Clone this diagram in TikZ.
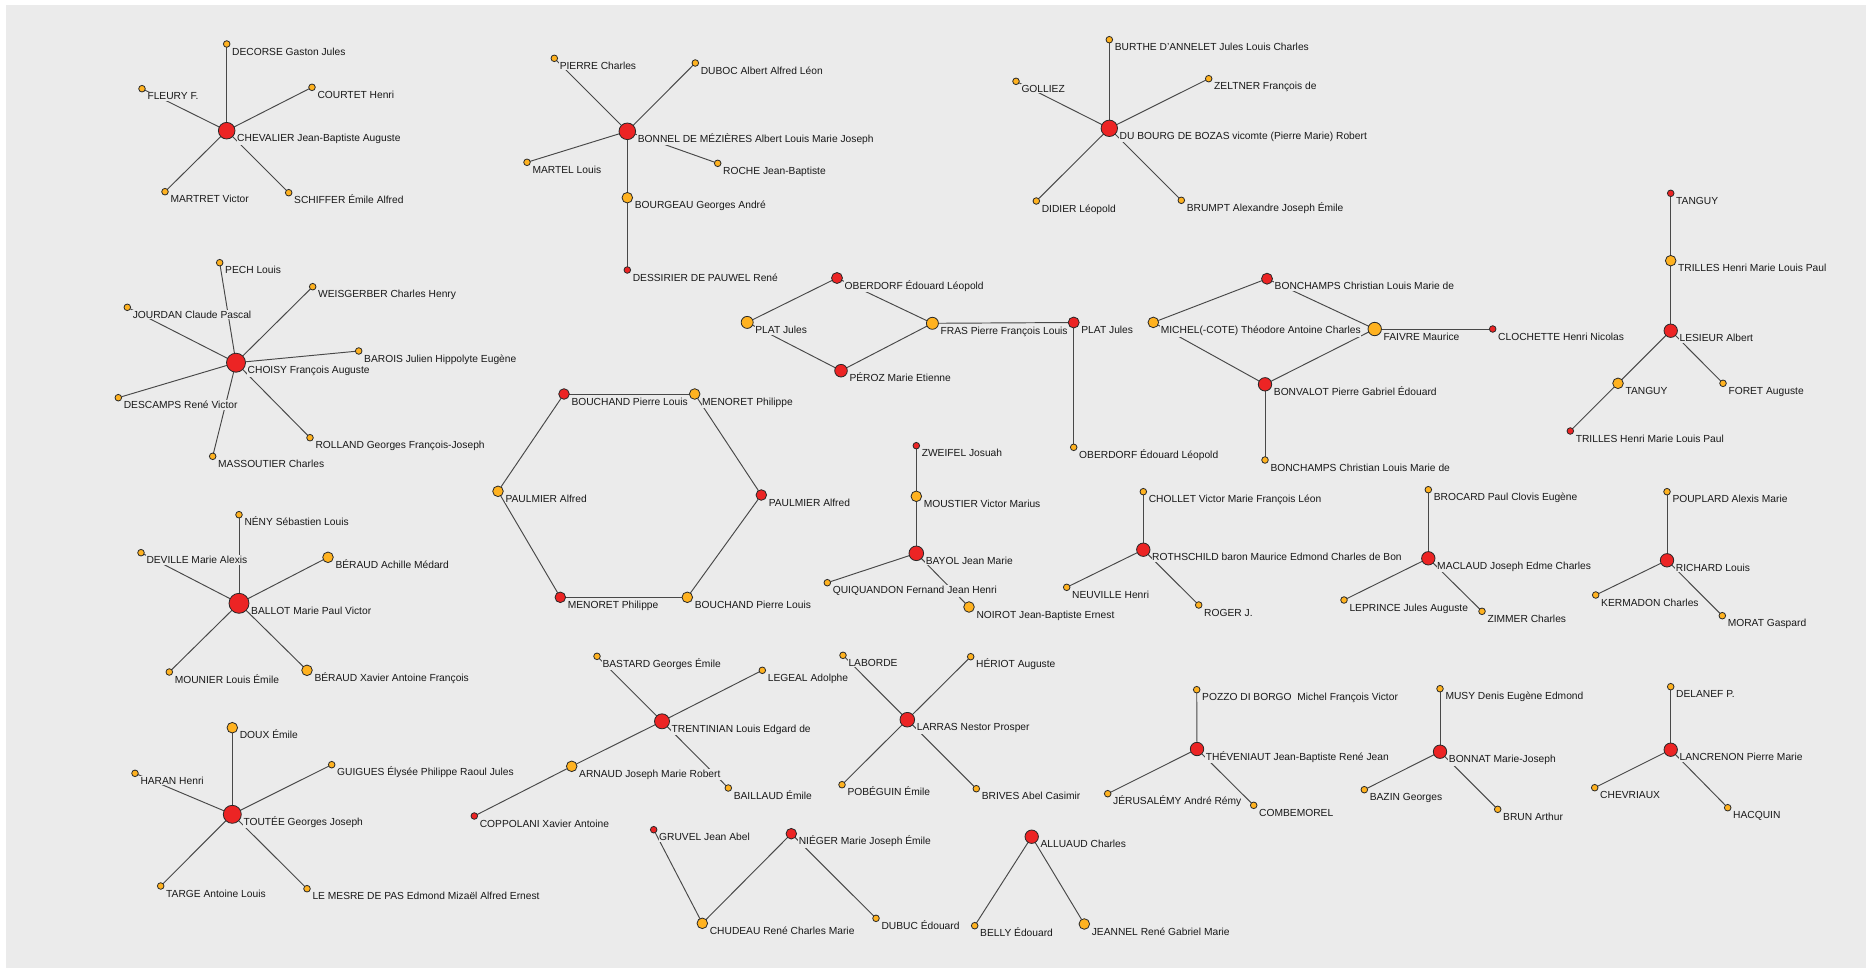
\documentclass[tikz,border=0pt]{standalone}
\usepackage{fontspec}
\setmainfont{Liberation Sans}
\pgfdeclarelayer{bglayer}
\pgfdeclarelayer{edgelayer}
\pgfdeclarelayer{lbllayer}
\pgfsetlayers{bglayer,edgelayer,lbllayer,main}
\definecolor{bgc}{RGB}{235,235,235}
\definecolor{nred}{RGB}{236,36,36}
\definecolor{norg}{RGB}{255,178,32}
\definecolor{edgec}{RGB}{72,72,72}
\definecolor{outl}{RGB}{40,40,40}
\definecolor{txt}{RGB}{25,25,25}
\newcommand{\lbfont}{\fontsize{10.25}{12}\selectfont}
\tikzset{
  nd/.style={circle, draw=outl, line width=0.8pt, inner sep=0pt, outer sep=0pt},
  rd/.style={nd, fill=nred},
  og/.style={nd, fill=norg},
  lbl/.style={anchor=base west, fill=bgc, inner xsep=0.5pt, inner ysep=1pt, text=txt, font=\lbfont},
  edge/.style={draw=edgec, line width=0.95pt}
}
\newcommand{\RN}[5]{\node[rd,minimum size={2*#4pt}] (#1) at (#2,#3) {};
  \begin{pgfonlayer}{lbllayer}\node[lbl] (#1-l) at ({#2+#4+1.5},{#3+11}) {#5};\end{pgfonlayer}}
\newcommand{\ON}[5]{\node[og,minimum size={2*#4pt}] (#1) at (#2,#3) {};
  \begin{pgfonlayer}{lbllayer}\node[lbl] (#1-l) at ({#2+#4+1.5},{#3+11}) {#5};\end{pgfonlayer}}
\newcommand{\E}[2]{\draw[edge] (#1) -- (#2);}
\begin{document}
\begin{tikzpicture}[x=1pt,y=-1pt]
\begin{pgfonlayer}{bglayer}
\fill[white] (0,0) rectangle (1872,972);
\fill[bgc] (6,5) rectangle (1866,968);
\end{pgfonlayer}
\useasboundingbox (0,0) rectangle (1872,972);
% CHEVALIER
\RN{chev}{226.7}{130.7}{8.3}{CHEVALIER Jean-Baptiste Auguste}
\ON{deco}{226.7}{44.0}{3.3}{DECORSE Gaston Jules}
\ON{fleu}{142}{88.7}{3.3}{FLEURY F.}
\ON{cour}{312}{87.3}{3.3}{COURTET Henri}
\ON{mart}{165}{191.7}{3.3}{MARTRET Victor}
\ON{schi}{288.7}{192.7}{3.3}{SCHIFFER Émile Alfred}
% CHOISY
\RN{choi}{236}{362.7}{9.5}{CHOISY François Auguste}
\ON{pech}{219.7}{262.7}{3.3}{PECH Louis}
\ON{weis}{312.7}{286.7}{3.3}{WEISGERBER Charles Henry}
\ON{jour}{127.3}{307.3}{3.3}{JOURDAN Claude Pascal}
\ON{baro}{358.7}{351}{3.3}{BAROIS Julien Hippolyte Eugène}
\ON{desc}{118.3}{397.7}{3.3}{DESCAMPS René Victor}
\ON{roll}{310}{437.7}{3.3}{ROLLAND Georges François-Joseph}
\ON{mass}{212.7}{456.3}{3.3}{MASSOUTIER Charles}
% BALLOT
\RN{ball}{239}{603.3}{10}{BALLOT Marie Paul Victor}
\ON{neny}{239}{514.7}{3.3}{NÉNY Sébastien Louis}
\ON{devi}{141}{552.7}{3.3}{DEVILLE Marie Alexis}
\ON{bera}{328}{557.3}{5.3}{BÉRAUD Achille Médard}
\ON{moun}{169.3}{672}{3.3}{MOUNIER Louis Émile}
\ON{berx}{307}{670.3}{5.3}{BÉRAUD Xavier Antoine François}
% TOUTEE
\RN{tout}{232.3}{814.3}{9}{TOUTÉE Georges Joseph}
\ON{doux}{232.3}{727.7}{5.3}{DOUX Émile}
\ON{hara}{135}{773.3}{3.3}{HARAN Henri}
\ON{guig}{331.7}{764.7}{3.3}{GUIGUES Élysée Philippe Raoul Jules}
\ON{targ}{160.7}{886}{3.3}{TARGE Antoine Louis}
\ON{lemp}{307}{888.7}{3.3}{LE MESRE DE PAS Edmond Mizaël Alfred Ernest}
% BONNEL
\RN{bonn}{627.3}{131.3}{8.3}{BONNEL DE MÉZIÈRES Albert Louis Marie Joseph}
\ON{pier}{554.3}{58.3}{3.3}{PIERRE Charles}
\ON{dubo}{695.3}{63}{3.3}{DUBOC Albert Alfred Léon}
\ON{mrtl}{527}{162.3}{3.3}{MARTEL Louis}
\ON{roch}{717.7}{163.3}{3.3}{ROCHE Jean-Baptiste}
\ON{bour}{627.3}{197.7}{5.3}{BOURGEAU Georges André}
\RN{dess}{627.3}{270}{3.3}{DESSIRIER DE PAUWEL René}
% PLAT group
\RN{obe1}{837}{278}{5.5}{OBERDORF Édouard Léopold}
\ON{pla1}{747.2}{322.4}{6}{PLAT Jules}
\ON{fras}{932.4}{323.3}{6}{FRAS Pierre François Louis}
\RN{pero}{841}{370.7}{6.3}{PÉROZ Marie Etienne}
\RN{pla2}{1073.7}{322.5}{5.5}{PLAT Jules}
\ON{obe2}{1073.7}{447.3}{3.3}{OBERDORF Édouard Léopold}
% DU BOURG
\RN{dubg}{1109.3}{128.3}{8.2}{DU BOURG DE BOZAS vicomte (Pierre Marie) Robert}
\ON{burt}{1109.3}{39.7}{3.3}{BURTHE D\symbol{39}ANNELET Jules Louis Charles}
\ON{goll}{1016}{81.3}{3.3}{GOLLIEZ}
\ON{zelt}{1208.7}{78.7}{3.3}{ZELTNER François de}
\ON{didi}{1036.3}{201}{3.3}{DIDIER Léopold}
\ON{brum}{1181.3}{200.3}{3.3}{BRUMPT Alexandre Joseph Émile}
% BONVALOT group
\RN{bch1}{1267}{278.7}{5.5}{BONCHAMPS Christian Louis Marie de}
\ON{mich}{1153.3}{322.4}{5.3}{MICHEL(-COTE) Théodore Antoine Charles}
\ON{faiv}{1374.7}{329}{6.7}{FAIVRE Maurice}
\RN{bonv}{1265}{384.3}{6.7}{BONVALOT Pierre Gabriel Édouard}
\ON{bch2}{1265}{460}{3.3}{BONCHAMPS Christian Louis Marie de}
\RN{cloc}{1492.7}{329}{3.3}{CLOCHETTE Henri Nicolas}
% LESIEUR
\RN{tan1}{1670.7}{193.3}{3.3}{TANGUY}
\ON{tri1}{1670.7}{260.7}{5.3}{TRILLES Henri Marie Louis Paul}
\RN{lesi}{1670.7}{330.7}{6.7}{LESIEUR Albert}
\ON{tan2}{1618}{383.3}{5.3}{TANGUY}
\ON{fore}{1723}{383.3}{3.3}{FORET Auguste}
\RN{tri2}{1570.3}{431}{3.3}{TRILLES Henri Marie Louis Paul}
% hexagon
\RN{bct}{564}{394}{5.3}{BOUCHAND Pierre Louis}
\ON{mnt}{694.7}{394}{5.3}{MENORET Philippe}
\ON{pal}{498}{491.3}{5.3}{PAULMIER Alfred}
\RN{par}{761.3}{495}{5.3}{PAULMIER Alfred}
\RN{mnb}{560.3}{597.3}{5.3}{MENORET Philippe}
\ON{bcb}{687.3}{597.3}{5.3}{BOUCHAND Pierre Louis}
% BAYOL
\RN{zwei}{916.3}{445.7}{3.3}{ZWEIFEL Josuah}
\ON{mous}{916.3}{496.3}{5.3}{MOUSTIER Victor Marius}
\RN{bayo}{916.3}{553.3}{7.3}{BAYOL Jean Marie}
\ON{quiq}{827.3}{582.7}{3.3}{QUIQUANDON Fernand Jean Henri}
\ON{noir}{969}{607}{5.3}{NOIROT Jean-Baptiste Ernest}
% ROTHSCHILD
\ON{chol}{1143.3}{491.7}{3.3}{CHOLLET Victor Marie François Léon}
\RN{roth}{1143.3}{549.7}{6.7}{ROTHSCHILD baron Maurice Edmond Charles de Bon}
\ON{neuv}{1066.7}{587.3}{3.3}{NEUVILLE Henri}
\ON{roge}{1198.7}{605}{3.3}{ROGER J.}
% MACLAUD
\ON{broc}{1428.3}{489.7}{3.3}{BROCARD Paul Clovis Eugène}
\RN{macl}{1428.3}{558.3}{6.7}{MACLAUD Joseph Edme Charles}
\ON{lepr}{1344}{600}{3.3}{LEPRINCE Jules Auguste}
\ON{zimm}{1482}{611.3}{3.3}{ZIMMER Charles}
% RICHARD
\ON{poup}{1667}{491.7}{3.3}{POUPLARD Alexis Marie}
\RN{rich}{1667}{560.3}{6.7}{RICHARD Louis}
\ON{kerm}{1595.7}{595}{3.3}{KERMADON Charles}
\ON{mora}{1722.3}{615.7}{3.3}{MORAT Gaspard}
% TRENTINIAN
\ON{bast}{597}{656.3}{3.3}{BASTARD Georges Émile}
\ON{lege}{762.3}{670.3}{3.3}{LEGEAL Adolphe}
\RN{tren}{662}{721.3}{7.5}{TRENTINIAN Louis Edgard de}
\ON{arna}{571.7}{766.3}{5.3}{ARNAUD Joseph Marie Robert}
\ON{bail}{728.3}{788}{3.3}{BAILLAUD Émile}
\RN{copp}{474.3}{816}{3.3}{COPPOLANI Xavier Antoine}
% LARRAS
\ON{labo}{843}{655.3}{3.3}{LABORDE}
\ON{heri}{970.7}{656.7}{3.3}{HÉRIOT Auguste}
\RN{larr}{907.3}{719.7}{7.3}{LARRAS Nestor Prosper}
\ON{pobe}{842}{784.7}{3.3}{POBÉGUIN Émile}
\ON{briv}{976.3}{788.7}{3.3}{BRIVES Abel Casimir}
% GRUVEL
\RN{gruv}{653.7}{829.7}{3.3}{GRUVEL Jean Abel}
\RN{nieg}{791.3}{833.7}{5.3}{NIÉGER Marie Joseph Émile}
\ON{chud}{702.3}{923.3}{5.3}{CHUDEAU René Charles Marie}
\ON{dubu}{876}{918.3}{3.3}{DUBUC Édouard}
% ALLUAUD
\RN{allu}{1031.7}{836.7}{6.7}{ALLUAUD Charles}
\ON{bell}{974.7}{925.7}{3.3}{BELLY Édouard}
\ON{jean}{1084.3}{924}{5.3}{JEANNEL René Gabriel Marie}
% THEVENIAUT
\ON{pozz}{1196.7}{689.7}{3.3}{POZZO DI BORGO~~Michel François Victor}
\RN{thev}{1197}{749}{6.7}{THÉVENIAUT Jean-Baptiste René Jean}
\ON{jeru}{1107.7}{793.7}{3.3}{JÉRUSALÉMY André Rémy}
\ON{comb}{1253.7}{805.3}{3.3}{COMBEMOREL}
% BONNAT
\ON{musy}{1440}{688.7}{3.3}{MUSY Denis Eugène Edmond}
\RN{bnat}{1440}{751.7}{6.7}{BONNAT Marie-Joseph}
\ON{bazi}{1364.3}{789.7}{3.3}{BAZIN Georges}
\ON{brun}{1497.7}{809.3}{3.3}{BRUN Arthur}
% LANCRENON
\ON{dela}{1670.7}{686.7}{3.3}{DELANEF P.}
\RN{lanc}{1670.7}{749.7}{6.7}{LANCRENON Pierre Marie}
\ON{chvx}{1594.7}{787.7}{3.3}{CHEVRIAUX}
\ON{hacq}{1727.7}{807.7}{3.3}{HACQUIN}
% edges
\begin{pgfonlayer}{edgelayer}
\E{chev}{deco}\E{chev}{fleu}\E{chev}{cour}\E{chev}{mart}\E{chev}{schi}
\E{choi}{pech}\E{choi}{weis}\E{choi}{jour}\E{choi}{baro}\E{choi}{desc}\E{choi}{roll}\E{choi}{mass}
\E{ball}{neny}\E{ball}{devi}\E{ball}{bera}\E{ball}{moun}\E{ball}{berx}
\E{tout}{doux}\E{tout}{hara}\E{tout}{guig}\E{tout}{targ}\E{tout}{lemp}
\E{bonn}{pier}\E{bonn}{dubo}\E{bonn}{mrtl}\E{bonn}{roch}\E{bonn}{bour}\E{bour}{dess}
\E{pla1}{obe1}\E{pla1}{pero}\E{obe1}{fras}\E{pero}{fras}\E{fras}{pla2}\E{pla2}{obe2}
\E{dubg}{burt}\E{dubg}{goll}\E{dubg}{zelt}\E{dubg}{didi}\E{dubg}{brum}
\E{mich}{bch1}\E{bch1}{faiv}\E{mich}{bonv}\E{bonv}{faiv}\E{bonv}{bch2}\E{faiv}{cloc}
\E{tan1}{tri1}\E{tri1}{lesi}\E{lesi}{tan2}\E{tan2}{tri2}\E{lesi}{fore}
\E{bct}{mnt}\E{mnt}{par}\E{par}{bcb}\E{bcb}{mnb}\E{mnb}{pal}\E{pal}{bct}
\E{zwei}{mous}\E{mous}{bayo}\E{bayo}{quiq}\E{bayo}{noir}
\E{roth}{chol}\E{roth}{neuv}\E{roth}{roge}
\E{macl}{broc}\E{macl}{lepr}\E{macl}{zimm}
\E{rich}{poup}\E{rich}{kerm}\E{rich}{mora}
\E{tren}{bast}\E{tren}{lege}\E{tren}{arna}\E{tren}{bail}\E{arna}{copp}
\E{larr}{labo}\E{larr}{heri}\E{larr}{pobe}\E{larr}{briv}
\E{gruv}{chud}\E{chud}{nieg}\E{nieg}{dubu}
\E{allu}{bell}\E{allu}{jean}
\E{thev}{pozz}\E{thev}{jeru}\E{thev}{comb}
\E{bnat}{musy}\E{bnat}{bazi}\E{bnat}{brun}
\E{lanc}{dela}\E{lanc}{chvx}\E{lanc}{hacq}
\end{pgfonlayer}
\end{tikzpicture}
\end{document}
